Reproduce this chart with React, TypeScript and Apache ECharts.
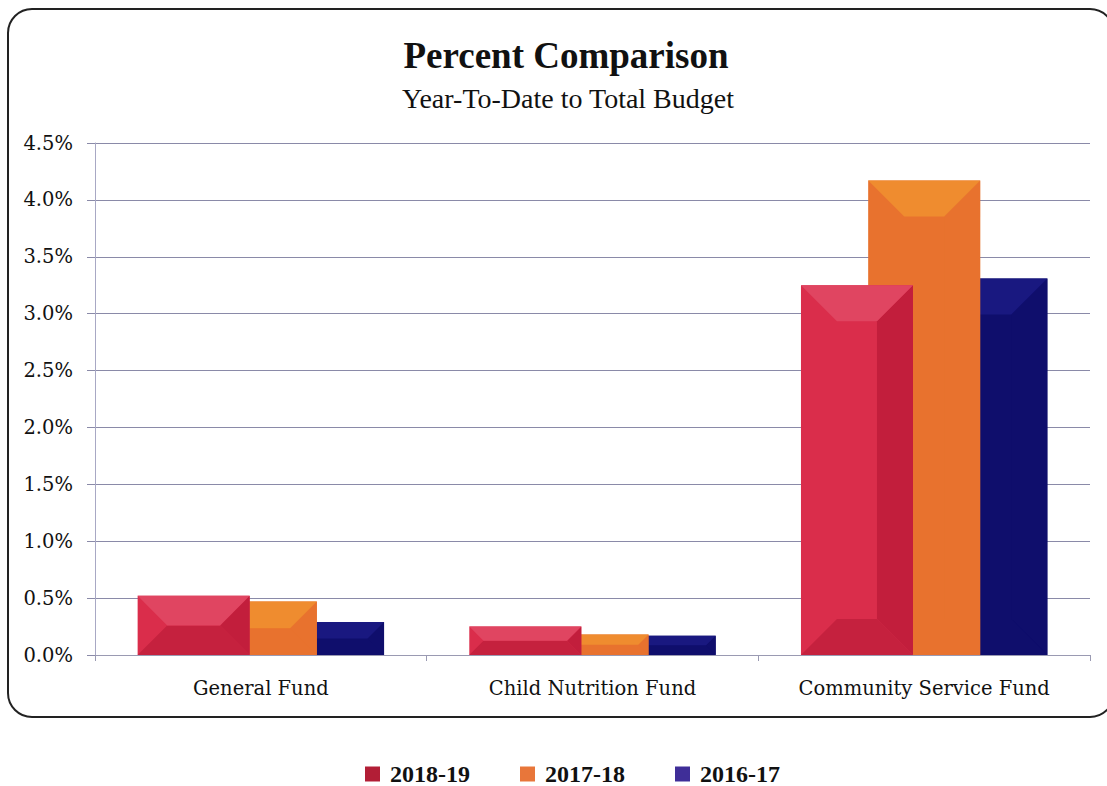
import React, { useEffect, useRef } from "react";
import * as echarts from "echarts";

const categories = ["General Fund", "Child Nutrition Fund", "Community Service Fund"];
const seriesNames = ["2018-19", "2017-18", "2016-17"];
const values2018 = [0.52, 0.25, 3.25];
const values2017 = [0.47, 0.18, 4.17];
const values2016 = [0.29, 0.17, 3.31];
const yTicks = [0, 0.5, 1.0, 1.5, 2.0, 2.5, 3.0, 3.5, 4.0, 4.5];

const palettes = [
  { base: "#DA2D4B", top: "#E04561", right: "#C21E3C", bottom: "#C5213E", legend: "#B21E36" },
  { base: "#E8722E", top: "#EF8C2F", right: "#E8722E", bottom: "#E8722E", legend: "#E8763A" },
  { base: "#0F0E6C", top: "#191880", right: "#0F0E6C", bottom: "#0F0E6C", legend: "#3F2E98" },
];

const BAR_W = 112;
const STEP = BAR_W * 0.6;

export default function App() {
  const ref = useRef<HTMLDivElement>(null);
  useEffect(() => {
    if (!ref.current) return;
    const chart = echarts.init(ref.current, null, { renderer: "svg" });
    const allValues = [values2018, values2017, values2016];
    const serif = "'Liberation Serif', 'DejaVu Serif', serif";
    const wideSerif = "'DejaVu Serif', 'Liberation Serif', serif";

    const barSeries: any[] = allValues.map((vals, i) => ({
      type: "bar",
      name: seriesNames[i],
      data: vals,
      barWidth: BAR_W,
      barGap: "-40%",
      z: 6 - i * 2,
      itemStyle: { color: palettes[i].base },
    }));

    const bevelSeries: any[] = allValues.map((vals, i) => ({
      type: "custom",
      name: seriesNames[i],
      z: 7 - i * 2,
      silent: true,
      data: vals.map((v, k) => [k, v]),
      renderItem: (params: any, api: any) => {
        const cat = api.value(0);
        const val = api.value(1);
        const p0 = api.coord([cat, 0]);
        const p1 = api.coord([cat, val]);
        const cx = p0[0] + (i - 1) * STEP;
        const x0 = cx - BAR_W / 2;
        const x1 = cx + BAR_W / 2;
        const y0 = p1[1];
        const y1 = p0[1];
        const h = y1 - y0;
        const b = Math.min(36, h / 2, BAR_W / 2);
        const pal = palettes[i];
        return {
          type: "group",
          children: [
            {
              type: "polygon",
              shape: { points: [[x1, y0], [x1, y1], [x1 - b, y1 - b], [x1 - b, y0 + b]] },
              style: { fill: pal.right },
            },
            {
              type: "polygon",
              shape: { points: [[x0, y1], [x1, y1], [x1 - b, y1 - b], [x0 + b, y1 - b]] },
              style: { fill: pal.bottom },
            },
            {
              type: "polygon",
              shape: { points: [[x0, y0], [x1, y0], [x1 - b, y0 + b], [x0 + b, y0 + b]] },
              style: { fill: pal.top },
            },
          ],
        };
      },
    }));

    chart.setOption({
      animation: false,
      backgroundColor: "#ffffff",
      title: [
        {
          text: "Percent Comparison",
          left: 561,
          textAlign: "center",
          top: 32,
          textStyle: { fontFamily: serif, fontSize: 37, fontWeight: "bold", color: "#111" },
        },
        {
          text: "Year-To-Date to Total Budget",
          left: 563,
          textAlign: "center",
          top: 79,
          textStyle: { fontFamily: serif, fontSize: 28, fontWeight: "normal", color: "#111" },
        },
      ],
      graphic: [
        {
          type: "rect",
          shape: { x: 8, y: 9, width: 1106, height: 708, r: 24 },
          style: { fill: "none", stroke: "#222", lineWidth: 2 },
          z: -1,
        },
      ],
      legend: {
        data: seriesNames.map((n, i) => ({ name: n, itemStyle: { color: palettes[i].legend } })),
        top: 762,
        left: 365,
        icon: "rect",
        itemWidth: 15,
        itemHeight: 15,
        itemGap: 50,
        padding: 0,
        textStyle: {
          fontFamily: serif,
          fontSize: 24,
          lineHeight: 20,
          fontWeight: "bold",
          color: "#111",
          padding: [0, 0, 0, 5],
        },
      },
      grid: { left: 95, right: 17, top: 143, bottom: 131 },
      xAxis: {
        type: "category",
        data: categories,
        axisLine: { lineStyle: { color: "#9a9ab2", width: 1 } },
        axisTick: { show: true, length: 6, lineStyle: { color: "#9a9ab2" } },
        axisLabel: { fontFamily: wideSerif, fontSize: 19.5, color: "#111", margin: 23 },
      },
      yAxis: {
        type: "value",
        min: 0,
        max: 4.5,
        interval: 0.5,
        axisLine: { show: true, lineStyle: { color: "#a8a8c4", width: 1 } },
        axisTick: { show: true, length: 8, lineStyle: { color: "#8a8aa8" } },
        axisLabel: {
          fontFamily: wideSerif,
          fontSize: 19.5,
          color: "#111",
          margin: 22,
          formatter: (v: number) => (yTicks.includes(v) ? v.toFixed(1) + "%" : ""),
        },
        splitLine: { lineStyle: { color: "#8a8aa8", width: 1 } },
      },
      series: [...barSeries, ...bevelSeries],
    });
    return () => chart.dispose();
  }, []);
  return (
    <div
      ref={ref}
      style={{ position: "fixed", left: 0, top: 0, width: 1107, height: 786 }}
    />
  );
}
